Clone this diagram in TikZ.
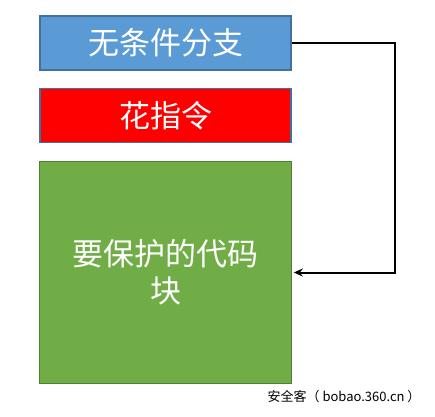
\documentclass[tikz,border=0pt]{standalone}
\usepackage{fontspec}
\usepackage{xcolor}
\usepackage{tikz}
\usetikzlibrary{arrows.meta}
\usetikzlibrary{positioning, calc}
\newfontfamily\cjk{Noto Sans CJK SC}
\definecolor{boxblue}{HTML}{5B9BD5}
\definecolor{edgeblue}{HTML}{41719C}
\definecolor{boxgreen}{HTML}{70AD47}
\definecolor{edgegreen}{HTML}{507E32}

\tikzset{
    block/.style={rectangle, draw=edgeblue, line width=1.6pt, text=white,
        minimum width=251pt, inner sep=0pt,
        font=\cjk\fontsize{31}{37}\selectfont, align=center},
    link/.style={draw=black, line width=2pt, -{Stealth[length=9pt, width=8pt]}}
}

\begin{document}
\begin{tikzpicture}[x=1pt, y=-1pt]
\useasboundingbox[fill=white] (0,0) rectangle (435,416);

\node[block, fill=boxblue, minimum height=54pt] (n0) at (165.5, 43) {无条件分支};
\node[block, fill=red, minimum height=54pt] (n1) at (165.5, 115.5) {花指令};
\node[block, fill=boxgreen, draw=edgegreen, minimum width=252pt, minimum height=222pt] (n2) at (165.5, 272.5) {要保护的代码\\块};

\draw[link] (n0.east) -- ++(103,0) |- ($(n2.east)+(1.5,0)$);

\node[font=\cjk\fontsize{13}{15}\selectfont, anchor=east] (wm) at (424, 397) {安全客（ bobao.360.cn ）};

\end{tikzpicture}
\end{document}
